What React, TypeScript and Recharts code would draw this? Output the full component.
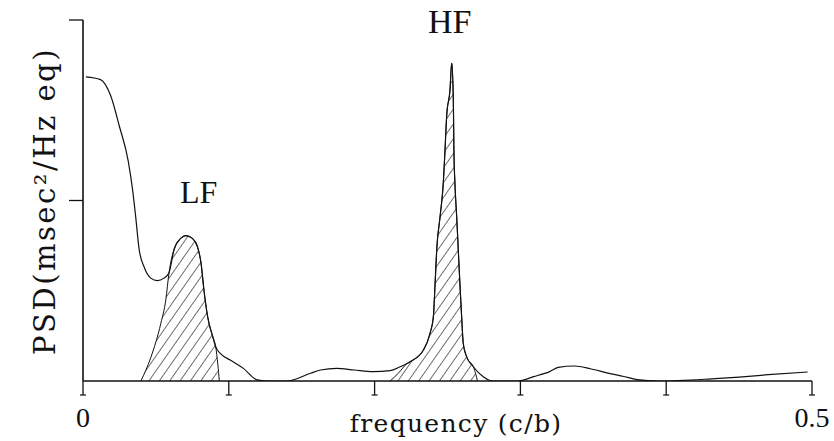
import { ComposedChart, Line, Area, XAxis, YAxis } from "recharts";

// main PSD curve (frequency in cycles/beat)
const psdFreq = [
  0.002, 0.012, 0.019, 0.025, 0.031, 0.034, 0.036, 0.0385, 0.042, 0.0465,
  0.051, 0.0555, 0.059, 0.0625, 0.067, 0.0705, 0.075, 0.0785, 0.081, 0.083,
  0.0855, 0.089, 0.091, 0.0945, 0.101, 0.11, 0.1195, 0.126, 0.14, 0.156,
  0.163, 0.174, 0.186, 0.199, 0.2107, 0.2175, 0.2244, 0.2335, 0.238, 0.2403,
  0.2415, 0.2426, 0.2449, 0.2471, 0.2483, 0.2494, 0.2517, 0.2529, 0.254, 0.2544,
  0.2551, 0.2563, 0.2574, 0.2585, 0.2597, 0.2608, 0.2631, 0.2677, 0.2745, 0.2813,
  0.298, 0.309, 0.3201, 0.326, 0.337, 0.348, 0.36, 0.371, 0.38, 0.395,
  0.431, 0.45, 0.47, 0.497,
];
const psdValues = [
  1.685, 1.67, 1.58, 1.41, 1.22, 1.06, 0.92, 0.73, 0.63, 0.57,
  0.556, 0.57, 0.6, 0.73, 0.79, 0.805, 0.79, 0.744, 0.65, 0.5,
  0.356, 0.245, 0.19, 0.15, 0.116, 0.07, 0.006, 0, 0, 0.043,
  0.061, 0.07, 0.061, 0.052, 0.057, 0.079, 0.107, 0.172, 0.264, 0.356,
  0.541, 0.726, 0.91, 1.095, 1.28, 1.464, 1.612, 1.76, 1.557, 1.28,
  1.095, 0.91, 0.726, 0.541, 0.356, 0.209, 0.135, 0.079, 0.024, 0,
  0, 0.024, 0.052, 0.075, 0.083, 0.068, 0.044, 0.025, 0.008, 0,
  0.012, 0.022, 0.035, 0.05,
];

// LF component (hatched)
const lfFreq = [
  0.0397, 0.0465, 0.0534, 0.0568, 0.059, 0.0625, 0.067, 0.0705, 0.075,
  0.0785, 0.081, 0.083, 0.0855, 0.089, 0.091, 0.0925, 0.0935,
];
const lfValues = [
  0, 0.13, 0.32, 0.45, 0.6, 0.73, 0.79, 0.805, 0.79,
  0.744, 0.65, 0.5, 0.356, 0.245, 0.19, 0.09, 0,
];

// HF component (hatched)
const hfFreq = [
  0.2107, 0.2165, 0.222, 0.2244, 0.2335, 0.238, 0.2403, 0.2415, 0.2426,
  0.2449, 0.2471, 0.2483, 0.2494, 0.2517, 0.2529, 0.254, 0.2544, 0.2551,
  0.2563, 0.2574, 0.2585, 0.2597, 0.2608, 0.2631, 0.2677, 0.2695, 0.2705,
];
const hfValues = [
  0, 0.045, 0.095, 0.107, 0.172, 0.264, 0.356, 0.541, 0.726,
  0.91, 1.095, 1.28, 1.464, 1.612, 1.76, 1.557, 1.28, 1.095,
  0.91, 0.726, 0.541, 0.356, 0.209, 0.135, 0.079, 0.035, 0,
];

const xTicks = [0, 0.1, 0.2, 0.3, 0.4, 0.5];
const xTickLabels: Record<string, string> = { "0": "0", "0.5": "0.5" };
const yTicks = [1, 2];

type Row = { f: number; psd?: number; lf?: number; hf?: number };

function buildRows(): Row[] {
  const rows = new Map<number, Row>();
  const put = (fs: number[], vs: number[], key: "psd" | "lf" | "hf") => {
    fs.forEach((f, i) => {
      const row = rows.get(f) ?? { f };
      row[key] = vs[i];
      rows.set(f, row);
    });
  };
  put(psdFreq, psdValues, "psd");
  put(lfFreq, lfValues, "lf");
  put(hfFreq, hfValues, "hf");
  return Array.from(rows.values()).sort((a, b) => a.f - b.f);
}

const data = buildRows();
const INK = "#111";
const SERIF = "'Liberation Serif', 'Times New Roman', serif";
const WIDE_SERIF = "'DejaVu Serif', serif";

function renderXTick(props: any) {
  const { x, y, payload } = props;
  const label = xTickLabels[String(payload.value)];
  return (
    <g>
      <line x1={x - 3} x2={x + 3} y1={y - 2} y2={y - 2} stroke={INK} strokeWidth={1.2} />
      {label && (
        <text x={x} y={y + 30} textAnchor="middle" fontFamily={SERIF} fontSize={28} fill={INK}>
          {label}
        </text>
      )}
    </g>
  );
}

function renderNone() {
  return <g />;
}

export default function App() {
  return (
    <div style={{ position: "absolute", left: 0, top: 0, width: 834, height: 441, background: "#fff" }}>
      <ComposedChart
        width={834}
        height={441}
        data={data}
        margin={{ top: 20, right: 22, bottom: 0, left: 0 }}
      >
        <defs>
          <pattern
            id="hatch"
            patternUnits="userSpaceOnUse"
            width={8.5}
            height={8.5}
            patternTransform="rotate(35)"
          >
            <line x1={0} y1={0} x2={0} y2={8.5} stroke={INK} strokeWidth={1.2} />
          </pattern>
        </defs>
        <XAxis
          type="number"
          dataKey="f"
          domain={[0, 0.5]}
          ticks={xTicks}
          height={60}
          tickSize={14}
          tickLine={{ stroke: INK, strokeWidth: 1.3 }}
          axisLine={{ stroke: INK, strokeWidth: 1.6 }}
          tick={renderXTick}
          interval={0}
        />
        <YAxis
          type="number"
          domain={[0, 2]}
          ticks={yTicks}
          width={83}
          tickSize={14}
          tickLine={{ stroke: INK, strokeWidth: 1.3 }}
          axisLine={{ stroke: INK, strokeWidth: 1.6 }}
          tick={renderNone}
          allowDataOverflow
        />
        <Area
          type="monotone"
          dataKey="lf"
          stroke={INK}
          strokeWidth={1}
          fill="url(#hatch)"
          fillOpacity={1}
          connectNulls
          dot={false}
          activeDot={false}
          isAnimationActive={false}
        />
        <Area
          type="monotone"
          dataKey="hf"
          stroke={INK}
          strokeWidth={1}
          fill="url(#hatch)"
          fillOpacity={1}
          connectNulls
          dot={false}
          activeDot={false}
          isAnimationActive={false}
        />
        <Line
          type="monotone"
          dataKey="psd"
          stroke={INK}
          strokeWidth={1.2}
          connectNulls
          dot={false}
          activeDot={false}
          isAnimationActive={false}
        />
      </ComposedChart>
      <svg
        width={834}
        height={441}
        style={{ position: "absolute", left: 0, top: 0, pointerEvents: "none" }}
      >
        <text x={180} y={203} fontFamily={SERIF} fontSize={32} fill={INK}>LF</text>
        <text x={428} y={33} fontFamily={SERIF} fontSize={34} fill={INK}>HF</text>
        <text
          x={456}
          y={432}
          textAnchor="middle"
          fontFamily={WIDE_SERIF}
          fontSize={25}
          letterSpacing={1.3}
          fill={INK}
        >
          frequency (c/b)
        </text>
        <text
          transform="translate(55 201) rotate(-90)"
          textAnchor="middle"
          fontFamily={WIDE_SERIF}
          fontSize={29}
          letterSpacing={2.5}
          fill={INK}
        >
          PSD(msec²/Hz eq)
        </text>
      </svg>
    </div>
  );
}
